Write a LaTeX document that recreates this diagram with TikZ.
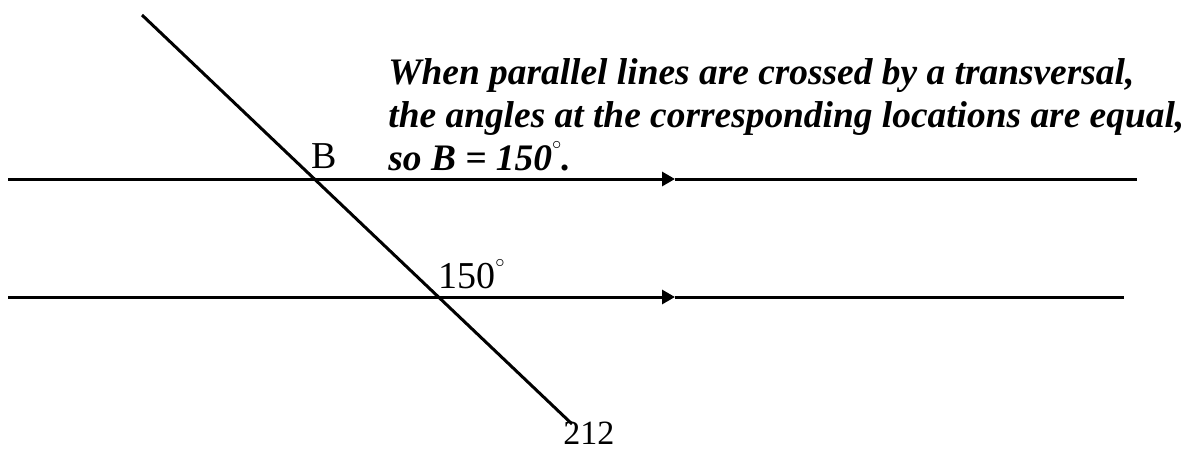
\documentclass[tikz,border=0pt]{standalone}
\usepackage{fontspec}
\setmainfont{Liberation Serif}
\usetikzlibrary{arrows.meta}

\newcommand{\dg}{\smash{\raisebox{1.2ex}{$\scriptscriptstyle\circ$}}}

\tikzset{
  line/.style={line width=1.5pt},
  lbl/.style={inner sep=0pt, anchor=base west, font=\fontsize{19}{22}\selectfont},
}

\begin{document}
\begin{tikzpicture}[x=0.5pt, y=-0.5pt]
\useasboundingbox (0,0) rectangle (1192,450);

\coordinate (t1) at (142,15);
\coordinate (t2) at (572,424);
\coordinate (p1) at (8,179);
\coordinate (m1) at (675,179);
\coordinate (q1) at (1137,179);
\coordinate (p2) at (8,297);
\coordinate (m2) at (675,297);
\coordinate (q2) at (1124,297);

\draw[line] (t1) -- (t2);
\draw[line, -{Triangle[length=6.5pt, width=7pt]}] (p1) -- (m1);
\draw[line] (m1) -- (q1);
\draw[line, -{Triangle[length=6.5pt, width=7pt]}] (p2) -- (m2);
\draw[line] (m2) -- (q2);

\node[lbl] (b) at (311,168) {B};
\node[lbl] (ang) at (438,288) {150\dg};
\node[lbl, font=\fontsize{17}{20}\selectfont] (pg) at (563,444) {212};

\node[inner sep=0pt, anchor=north west, align=left,
  font=\fontsize{18.7}{21.5}\selectfont\bfseries\itshape] (txt) at (388,58)
  {When parallel lines are crossed by a transversal,\\
   the angles at the corresponding locations are equal,\\
   so B = 150\dg.};
\end{tikzpicture}
\end{document}
